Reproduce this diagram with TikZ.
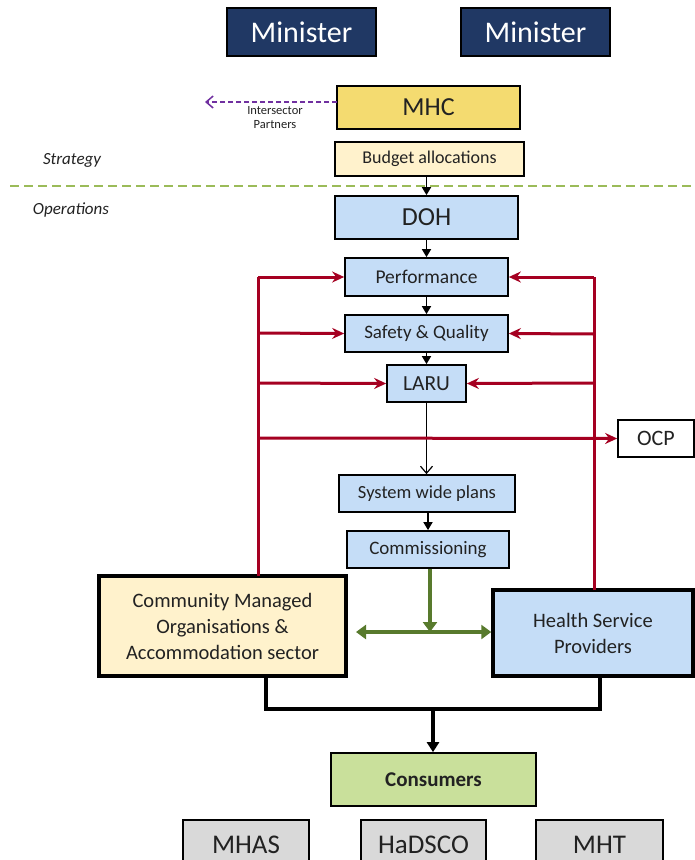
\documentclass[tikz,border=0pt]{standalone}
\usepackage{fontspec}
\setmainfont{Carlito}
\usetikzlibrary{arrows.meta}
\definecolor{navy}{HTML}{203864}
\definecolor{mhcgold}{HTML}{F4DB70}
\definecolor{paleyellow}{HTML}{FFF2CC}
\definecolor{paleblue}{HTML}{C5DDF7}
\definecolor{palegreen}{HTML}{C9E09B}
\definecolor{greybox}{HTML}{D9D9D9}
\definecolor{darkred}{HTML}{A50021}
\definecolor{olive}{HTML}{587A2D}
\definecolor{purp}{HTML}{7030A0}
\definecolor{dashgreen}{HTML}{9BBB59}
\definecolor{txt}{HTML}{222222}
\tikzset{
  box/.style={draw=black, line width=1.7pt, rectangle, inner sep=0pt, align=center, text=txt},
  bigbox/.style={box, line width=3.5pt},
  blackarrow/.style={line width=1.6pt, -{Triangle[length=8pt,width=9pt]}},
  redline/.style={draw=darkred, line width=3pt},
  redarrow/.style={redline, -{Stealth[length=12pt,width=11pt,inset=4pt]}},
  greenarrow/.style={draw=olive, line width=4pt},
  thickblack/.style={line width=4pt},
}
\begin{document}
\begin{tikzpicture}[x=1pt,y=-1pt]
\clip (0,0) rectangle (695,860);
\fill[white] (0,0) rectangle (695,860);

% Ministers
\node[box, fill=navy, text=white, minimum width=149pt, minimum height=48pt, font=\fontsize{30}{32}\selectfont] (min1) at (301.5,32) {Minister};
\node[box, fill=navy, text=white, minimum width=149pt, minimum height=48pt, font=\fontsize{30}{32}\selectfont] (min2) at (535.5,32) {Minister};

% MHC
\node[box, fill=mhcgold, minimum width=183pt, minimum height=43pt, font=\fontsize{26}{28}\selectfont] (mhc) at (428.5,107.5) {MHC};
\coordinate (mhcout) at (337,102);
\coordinate (partners) at (205,102);
\draw[purp, line width=1.5pt, dashed, dash pattern=on 5pt off 3pt, -{Straight Barb[length=7pt,width=12pt]}] (mhcout) -- (partners);
\node[align=center, text=txt, font=\fontsize{12.5}{14}\selectfont] (lblpart) at (275,118) {Intersector\\Partners};

% Budget
\node[box, fill=paleyellow, minimum width=189pt, minimum height=34pt, font=\fontsize{18}{20}\selectfont] (bud) at (429.5,159) {Budget allocations};

% Strategy / Operations
\node[font=\itshape\fontsize{17}{19}\selectfont, text=txt] (strat) at (72,160) {Strategy};
\node[font=\itshape\fontsize{17}{19}\selectfont, text=txt] (oper) at (71,210) {Operations};
\coordinate (dl) at (10,186);
\coordinate (dr) at (700,186);
\draw[dashgreen, line width=2.5pt, dash pattern=on 9pt off 5pt] (dl) -- (dr);

% DOH chain
\node[box, fill=paleblue, minimum width=183pt, minimum height=43pt, font=\fontsize{26}{28}\selectfont] (doh) at (426.5,217.5) {DOH};
\node[box, fill=paleblue, minimum width=163pt, minimum height=38pt, font=\fontsize{19.5}{21}\selectfont] (perf) at (426.5,277) {Performance};
\node[box, fill=paleblue, minimum width=163pt, minimum height=37pt, font=\fontsize{19}{21}\selectfont] (sq) at (426.5,333.5) {Safety \& Quality};
\node[box, fill=paleblue, minimum width=79pt, minimum height=37pt, font=\fontsize{21.5}{23}\selectfont] (laru) at (426.5,383.5) {LARU};
\node[box, fill=white, minimum width=76pt, minimum height=37pt, font=\fontsize{22}{24}\selectfont] (ocp) at (656,438.5) {OCP};
\node[box, fill=paleblue, minimum width=176pt, minimum height=37pt, font=\fontsize{18.5}{21}\selectfont] (swp) at (427,493.5) {System wide plans};
\node[box, fill=paleblue, minimum width=162pt, minimum height=37pt, font=\fontsize{19}{21}\selectfont] (comm) at (428,549.5) {Commissioning};

\draw[blackarrow] (doh.north |- bud.south) -- (doh.north);
\draw[blackarrow] (doh) -- (perf);
\draw[blackarrow] (perf) -- (sq);
\draw[blackarrow] (sq) -- (laru);
\draw[line width=1.2pt, -{Straight Barb[length=7pt,width=12pt]}] (laru.south) -- (laru.south |- swp.north);
\draw[blackarrow] (swp.south -| comm.north) -- (comm);

% Bottom boxes
\node[bigbox, fill=paleyellow, minimum width=247pt, minimum height=100pt, font=\fontsize{20.5}{26}\selectfont] (cmo) at (222.5,626) {Community Managed\\Organisations \&\\Accommodation sector};
\node[bigbox, fill=paleblue, minimum width=200pt, minimum height=86pt, font=\fontsize{20.5}{26}\selectfont] (hsp) at (593,633) {Health Service\\Providers};

% Red feedback lines
\coordinate (rlb) at (258,576);
\coordinate (rlt) at (258,277);
\coordinate (rl2) at (258,333);
\coordinate (rl3) at (258,383);
\coordinate (rl4) at (258,438);
\coordinate (rrb) at (594,590);
\coordinate (rrt) at (594,277);
\coordinate (rr2) at (594,334);
\coordinate (rr3) at (594,383);
\draw[redline] (rlb) -- (rlt);
\draw[redarrow] (rlt) -- (perf.west);
\draw[redarrow] (rl2) -- (sq.west);
\draw[redarrow] (rl3) -- (laru.west);
\draw[redarrow] (rl4) -- (ocp.west);
\draw[redline] (rrb) -- (rrt);
\draw[redarrow] (rrt) -- (perf.east);
\draw[redarrow] (rr2) -- (sq.east);
\draw[redarrow] (rr3) -- (laru.east);

% Green commissioning arrows
\coordinate (gj) at (430,632);
\coordinate (gl) at (356,632);
\draw[greenarrow, -{Triangle[length=10pt,width=14pt]}] (comm.south -| gj) -- (gj);
\draw[greenarrow, {Triangle[length=10pt,width=14pt]}-{Triangle[length=10pt,width=14pt]}] (gl) -- (hsp.west |- gl);

% Consumers
\node[box, fill=palegreen, minimum width=205pt, minimum height=53pt, font=\bfseries\fontsize{21}{23}\selectfont] (cons) at (433.5,779.5) {Consumers};
\coordinate (bl) at (266,709);
\coordinate (br) at (600,709);
\coordinate (bm) at (433,709);
\draw[thickblack] (cmo.south -| bl) -- (bl) -- (br) -- (hsp.south -| br);
\draw[thickblack, -{Triangle[length=10pt,width=12pt]}] (bm) -- (cons.north -| bm);

% Bottom grey boxes
\node[box, fill=greybox, minimum width=126pt, minimum height=50pt, font=\fontsize{27}{29}\selectfont] (mhas) at (246,845) {MHAS};
\node[box, fill=greybox, minimum width=125pt, minimum height=50pt, font=\fontsize{27}{29}\selectfont] (hadsco) at (423.5,845) {HaDSCO};
\node[box, fill=greybox, minimum width=127pt, minimum height=50pt, font=\fontsize{27}{29}\selectfont] (mht) at (599.5,845) {MHT};
\end{tikzpicture}
\end{document}
